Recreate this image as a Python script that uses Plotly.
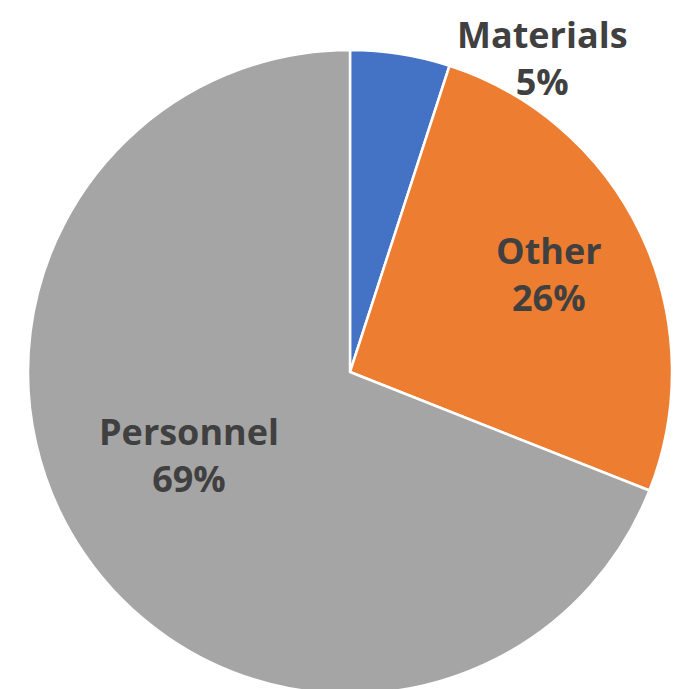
import plotly.graph_objects as go

categories = ["Materials", "Other", "Personnel"]
values = [5, 26, 69]
colors = ["#4472C4", "#ED7D31", "#A5A5A5"]

W, H = 687, 689
OFF = 8  # page body margin offset
FS = 36

fig = go.Figure(go.Pie(
    labels=categories,
    values=values,
    sort=False,
    direction="clockwise",
    rotation=0,
    marker=dict(colors=colors, line=dict(color="white", width=2.5)),
    textinfo="none",
    hoverinfo="label+percent",
    showlegend=False,
    domain=dict(x=[20 / W, 664 / W], y=[3 / H, 647 / H]),
))

# label placement (page pixel centre of the two-line label block)
label_pos = {
    "Materials": (542, 52),
    "Other": (549, 274),
    "Personnel": (189, 455),
}
total = sum(values)
for cat, val in zip(categories, values):
    x, y = label_pos[cat]
    txt = f"{cat}<br>{round(100 * val / total)}%"
    fy = y - OFF
    half = FS * 1.3
    if fy - half < 0:
        ypos, yanc = 1.0, "top"
    else:
        ypos, yanc = 1 - fy / H, "middle"
    fig.add_annotation(
        x=(x - OFF) / W, y=ypos, xref="paper", yref="paper",
        text=txt, showarrow=False, xanchor="center", yanchor=yanc, align="center",
        font=dict(family="Open Sans", size=FS, color="#404040", weight=700),
    )

fig.update_layout(
    width=W, height=H,
    margin=dict(l=0, r=0, t=0, b=0),
    paper_bgcolor="white",
    plot_bgcolor="white",
)

fig.write_html("out.html")
